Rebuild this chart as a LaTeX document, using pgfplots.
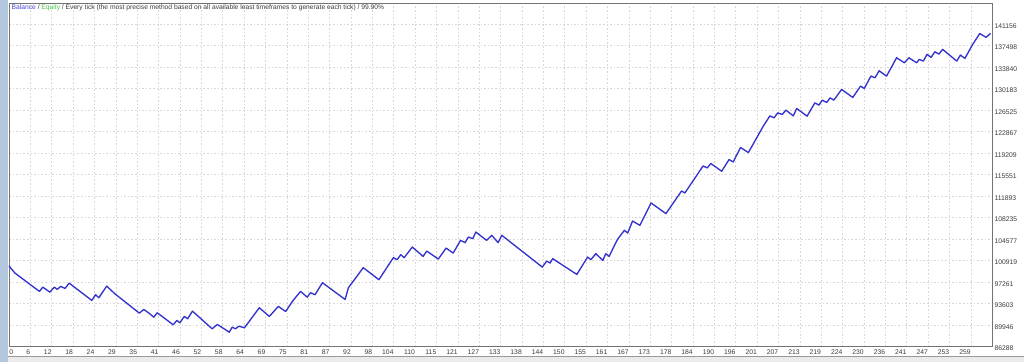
\documentclass[border=0pt]{standalone}
\usepackage{pgfplots}
\pgfplotsset{compat=1.18}
\usepackage{fontspec}
\setmainfont{Liberation Sans}
\definecolor{balblue}{RGB}{52,52,205}
\definecolor{txtblue}{RGB}{70,70,215}
\definecolor{eqgreen}{RGB}{70,200,70}
\definecolor{gridc}{RGB}{214,214,214}
\definecolor{framec}{RGB}{115,115,115}
\definecolor{stripc}{RGB}{178,198,222}
\definecolor{txtc}{RGB}{60,60,60}
\begin{document}
\begin{tikzpicture}
\path[use as bounding box] (0,0) rectangle (1024pt,362pt);
\fill[white] (0,0) rectangle (1024pt,362pt);
\fill[stripc] (0,0) rectangle (7.5pt,362pt);
\fill[black!8] (7.5pt,0) rectangle (1024pt,5.5pt);
\draw[black!40, line width=0.8pt] (7.5pt,5.5pt) -- (1024pt,5.5pt);
\begin{axis}[
  at={(9pt,15.5pt)}, anchor=south west,
  scale only axis, width=983pt, height=343.5pt,
  xmin=0, xmax=264.7, ymin=86288, ymax=144734,
  axis line style={draw=framec, line width=0.9pt},
  major tick length=0pt,
  grid=major,
  major grid style={draw=gridc, line width=0.7pt, dash pattern=on 1.6pt off 2pt},
  xtick={0,5.75556,...,259.1},
  xticklabels={\rlap{\hspace{1pt}0},6,12,18,24,29,35,41,46,52,58,64,69,75,81,87,92,98,104,110,115,121,127,133,138,144,150,155,161,167,173,178,184,190,196,201,207,213,219,224,230,236,241,247,253,259},
  ytick={86288,89946,93603,97261,100919,104577,108235,111893,115551,119209,122867,126525,130183,133840,137498,141156},
  yticklabels={86288,89946,93603,97261,100919,104577,108235,111893,115551,119209,122867,126525,130183,133840,137498,141156},
  yticklabel pos=right,
  /pgf/number format/assume math mode=true,
  tick label style={font=\fontsize{6.8}{8}\selectfont, text=txtc, inner sep=0pt},
  xticklabel style={anchor=north east, yshift=-3.3pt},
  yticklabel style={anchor=west, xshift=2.3pt, yshift=-2pt},
  clip=false,
]
\addplot[balblue, line width=1.35pt, line join=round] coordinates {
(0,100000) (1.6,98778) (8.2,95659) (9.1,96392) (11.0,95540) (12.2,96392) (13.0,96000) (13.9,96511) (15.1,96170) (16.2,97074)
(22.3,94126) (23.3,95097) (24.2,94586) (26.3,96562) (28.5,95267) (35.1,91962) (36.3,92592) (37.7,91962) (39.0,91280) (39.9,92030)
(44.2,89985) (45.2,90718) (46.0,90326) (47.2,91399) (48.1,91007) (49.4,92302) (54.7,89303) (56.1,90036) (57.5,89474) (59.3,88724)
(60.1,89576) (61.0,89303) (61.9,89746) (63.4,89474) (67.4,92882) (70.1,91399) (72.5,93103) (74.5,92251) (76.5,94126) (78.5,95659)
(80.3,94688) (81.2,95438) (82.4,95097) (84.4,97142) (90.5,94296) (91.4,96290) (95.4,99698) (99.6,97653) (103.5,101402) (104.5,101061)
(105.5,101913) (106.4,101402) (108.6,103208) (111.5,101623) (112.5,102526) (115.6,101163) (117.7,103038) (119.6,102186) (121.6,104350) (122.8,103958)
(123.7,104912) (124.9,104639) (125.7,105764) (128.6,104350) (130.0,105202) (131.7,103958) (132.7,105202) (143.6,99800) (144.8,100822) (145.7,100482)
(146.4,101231) (152.9,98556) (155.8,101504) (156.7,101061) (158.0,102083) (159.9,100942) (160.7,102083) (161.6,101623) (163.8,104469) (165.7,106054)
(166.6,105594) (167.9,107638) (169.9,106906) (172.9,110706) (176.9,108899) (181.1,112750) (182.0,112410) (186.9,117010) (188.0,116670) (189.0,117419)
(191.9,116107) (193.9,118101) (195.0,117692) (197.0,120146) (199.1,119294) (203.1,123775) (204.9,125530) (206.0,125190) (207.0,126042) (208.2,125769)
(209.2,126502) (211.2,125530) (212.1,126791) (214.9,125479) (217.0,127746) (218.1,127354) (219.0,128206) (220.2,127814) (221.1,128598) (222.1,128206)
(224.2,130029) (227.2,128666) (229.3,130591) (230.3,130199) (232.1,132295) (233.2,132006) (234.3,133198) (236.3,132295) (239.0,135414) (241.1,134562)
(242.3,135414) (244.4,134562) (245.1,135141) (246.2,134851) (247.2,135993) (248.3,135482) (249.3,136436) (250.4,136044) (251.4,136845) (255.2,134851)
(256.2,135874) (257.4,135311) (259.5,137697) (261.4,139537) (263.1,138890) (264.3,139571)
};
\end{axis}
\node[anchor=west, inner sep=0pt, font=\fontsize{6.7}{8}\selectfont, text=txtc] at (11.5pt,354.7pt)
  {{\color{txtblue}Balance} / {\color{eqgreen}Equity} / Every tick (the most precise method based on all available least timeframes to generate each tick) / 99.90\%};
\end{tikzpicture}
\end{document}
